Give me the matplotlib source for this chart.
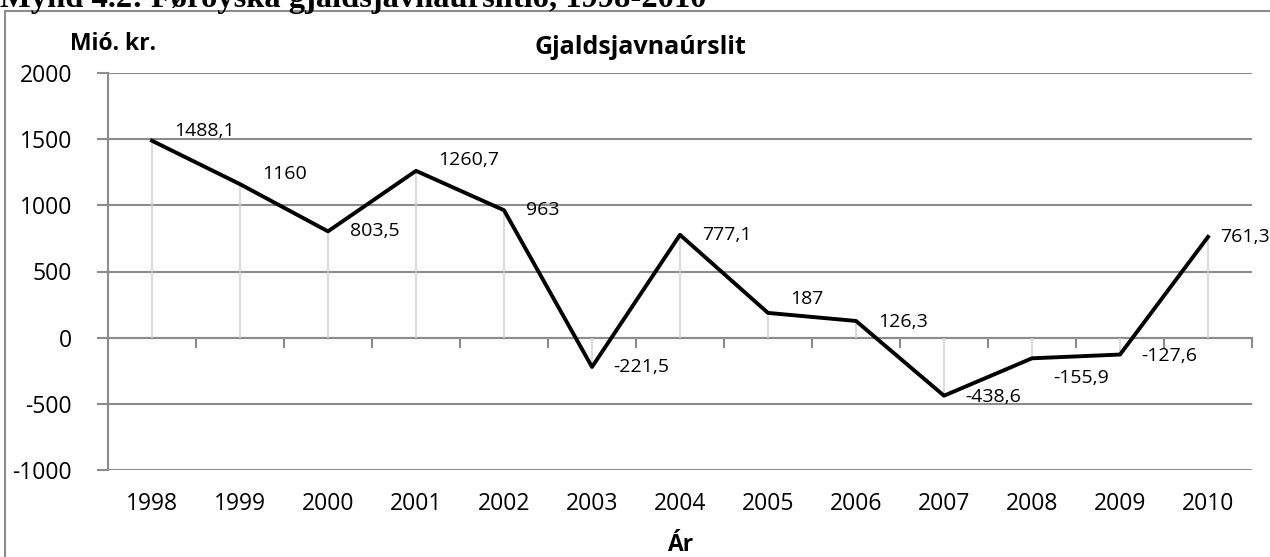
import numpy as np
import matplotlib
matplotlib.use("Agg")
import matplotlib.pyplot as plt
from matplotlib.patches import Rectangle

plt.rcParams['font.family'] = ['Open Sans', 'DejaVu Sans']
plt.rcParams['axes.unicode_minus'] = False

# data
years = ['1998', '1999', '2000', '2001', '2002', '2003', '2004',
         '2005', '2006', '2007', '2008', '2009', '2010']
values = [1488.1, 1160, 803.5, 1260.7, 963, -221.5, 777.1,
          187, 126.3, -438.6, -155.9, -127.6, 761.3]
labels = ['1488,1', '1160', '803,5', '1260,7', '963', '-221,5', '777,1',
          '187', '126,3', '-438,6', '-155,9', '-127,6', '761,3']
# nudge of each data label (points)
label_dx = [16, 16, 16, 16, 16, 15, 16, 16, 16, 15, 15, 15, 9]
label_dy = [7, 7, 0, 8, 0, 0, 0, 10, -1, -1, -14, -1, 0]

grid_col = '#8c8c8c'
drop_col = '#d4d4d4'

fig = plt.figure(figsize=(12.7, 5.57), dpi=100)
W, H = 1270, 557
ax = fig.add_axes([108 / W, 1 - 470 / H, (1252 - 108) / W, (470 - 73) / H])

x = np.arange(len(years))
ax.set_xlim(-0.5, len(years) - 0.5)
ax.set_ylim(-1000, 2000)
ax.set_yticks(np.arange(-1000, 2001, 500))
ax.tick_params(axis='y', labelsize=16.5, length=8, width=1.5, color=grid_col, pad=18)
ax.yaxis.grid(True, color=grid_col, linewidth=1.5)
ax.set_axisbelow(True)

for s in ['top', 'right', 'bottom']:
    ax.spines[s].set_visible(False)
ax.spines['left'].set_color(grid_col)
ax.spines['left'].set_linewidth(1.5)

# category labels at the bottom
ax.set_xticks(x)
ax.set_xticklabels(years)
ax.tick_params(axis='x', length=0, labelsize=16.5, pad=16)

# category axis crossing at zero
sec = ax.secondary_xaxis(1 / 3)
sec.set_xticks(np.arange(len(years) + 1) - 0.5)
sec.set_xticklabels([])
sec.tick_params(axis='x', direction='out', length=7, width=1.5, color=grid_col)
sec.spines['bottom'].set_color(grid_col)
sec.spines['bottom'].set_linewidth(1.5)

# drop lines
ax.vlines(x, 0, values, color=drop_col, linewidth=1.2, zorder=2)
ax.plot(x, values, color='black', linewidth=2.8, zorder=3)

for xi, v, lab, dx, dy in zip(x, values, labels, label_dx, label_dy):
    ax.annotate(lab, (xi, v), xytext=(dx, dy), textcoords='offset points',
                ha='left', va='center', fontsize=14, zorder=4)

fig.text(640 / W, 1 - 48 / H, 'Gjaldsjavnaúrslit', fontsize=18, fontweight='bold',
         ha='center', va='center')
ax.set_xlabel('Ár', fontsize=16.5, fontweight='bold', labelpad=12)
fig.text(70 / W, 1 - 44 / H, 'Mió. kr.', fontsize=16.5, fontweight='bold',
         ha='left', va='center')

# outer chart frame
fig.add_artist(Rectangle((5 / W, -0.2), 1.2, 1.2 - 11 / H, transform=fig.transFigure,
                         fill=False, edgecolor=grid_col, linewidth=1.5))

# figure caption, cut off at the top
fig.text(0, 1 - 7 / H, 'Mynd 4.2: Føroyska gjaldsjavnaúrslitið, 1998-2010',
         family='Liberation Serif', fontweight='bold', fontsize=23.4,
         ha='left', va='baseline')

fig.savefig('out.png', dpi=100)
